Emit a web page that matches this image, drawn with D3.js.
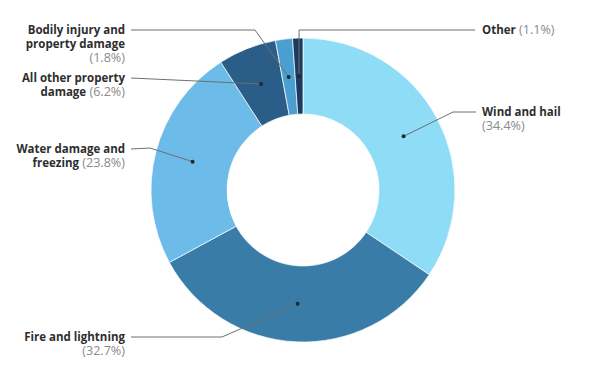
<!DOCTYPE html>
<html>
<head>
<meta charset="utf-8">
<script src="https://cdn.jsdelivr.net/npm/d3@7"></script>
<style>
  body { margin: 0; background: #fff; }
  text { font-family: "Open Sans", Roboto, sans-serif; }
</style>
</head>
<body>
<script>
// data
var categories = ["Wind and hail", "Fire and lightning", "Water damage and freezing",
                  "All other property damage", "Bodily injury and property damage", "Other"];
var shares = [34.4, 32.7, 23.8, 6.2, 1.8, 1.1];
var colors = ["#8fdcf7", "#3a7ca8", "#6dbbe8", "#2a5d88", "#4a9fd0", "#1b3c62"];

// how each category name is broken into lines ("" = share goes on its own line)
var labelLines = [
  ["Wind and hail"],
  ["Fire and lightning"],
  ["Water damage and", "freezing"],
  ["All other property", "damage"],
  ["Bodily injury and", "property damage", ""],
  ["Other"]
];

var width = 600, height = 373;
var cx = 303, cy = 190, outerR = 152, innerR = 76;

// label anchors (layout only): side, text x, first line y, elbow point
var labelLayout = [
  {side: "right", x: 482, y: 112, lineEnd: 476, elbow: [453, 112]},
  {side: "left",  x: 125, y: 337, lineEnd: 131, elbow: [222, 337]},
  {side: "left",  x: 125, y: 149, lineEnd: 131, elbow: [150, 148]},
  {side: "left",  x: 125, y: 78,  lineEnd: 131, elbow: null},
  {side: "left",  x: 125, y: 30,  lineEnd: 131, elbow: [255, 30]},
  {side: "right", x: 482, y: 30,  lineEnd: 475, elbow: "vertical"}
];

var svg = d3.select("body")
            .append("svg")
            .attr("width", width)
            .attr("height", height);

var pie = d3.pie().sort(null).value(function(d) { return d; });
var arcs = pie(shares);
var arc = d3.arc().innerRadius(innerR).outerRadius(outerR);

var g = svg.append("g").attr("transform", "translate(" + cx + "," + cy + ")");

g.selectAll("path")
   .data(arcs)
   .enter()
   .append("path")
   .attr("d", arc)
   .attr("fill", function(d, i) { return colors[i]; })
   .attr("stroke", "#fff")
   .attr("stroke-width", 0.7);

// leader lines
arcs.forEach(function(d, i) {
  var c = arc.centroid(d);
  var px = cx + c[0], py = cy + c[1];
  var L = labelLayout[i];
  var pts = [[px, py]];
  if (L.elbow === "vertical") {
    pts.push([px, L.y]);
  } else if (L.elbow) {
    pts.push(L.elbow);
  }
  pts.push([L.lineEnd, L.y]);

  svg.append("path")
     .attr("d", d3.line()(pts))
     .attr("fill", "none")
     .attr("stroke", "#6f6f6f")
     .attr("stroke-width", 1);

  svg.append("circle")
     .attr("cx", px)
     .attr("cy", py)
     .attr("r", 2)
     .attr("fill", "#1e2a33");
});

// labels
labelLines.forEach(function(lines, i) {
  var L = labelLayout[i];
  var pct = "(" + shares[i].toFixed(1) + "%)";
  var anchor = L.side === "left" ? "end" : "start";
  var t = svg.append("text")
     .attr("x", L.x)
     .attr("y", L.y)
     .attr("dy", "0.35em")
     .attr("text-anchor", anchor)
     .attr("font-size", "11.5px");

  var list = lines.slice();
  var ownLine = list[list.length - 1] === "";
  if (ownLine) list.pop();
  var sameLine = !ownLine && (list.length > 1 || list[0] === "Other");

  list.forEach(function(s, j) {
    var ts = t.append("tspan")
      .attr("x", L.x)
      .attr("dy", "1.22em")
      .attr("font-weight", "bold")
      .attr("fill", "#2e2e2e")
      .text(s);
    if (j === 0) ts.attr("dy", null);
  });
  if (sameLine) {
    t.append("tspan")
     .attr("fill", "#8a8a8a")
     .attr("font-size", "12.6px")
     .text(" " + pct);
  } else {
    t.append("tspan")
     .attr("x", L.x)
     .attr("dy", "14px")
     .attr("fill", "#8a8a8a")
     .attr("font-size", "12.6px")
     .text(pct);
  }
});
</script>
</body>
</html>
